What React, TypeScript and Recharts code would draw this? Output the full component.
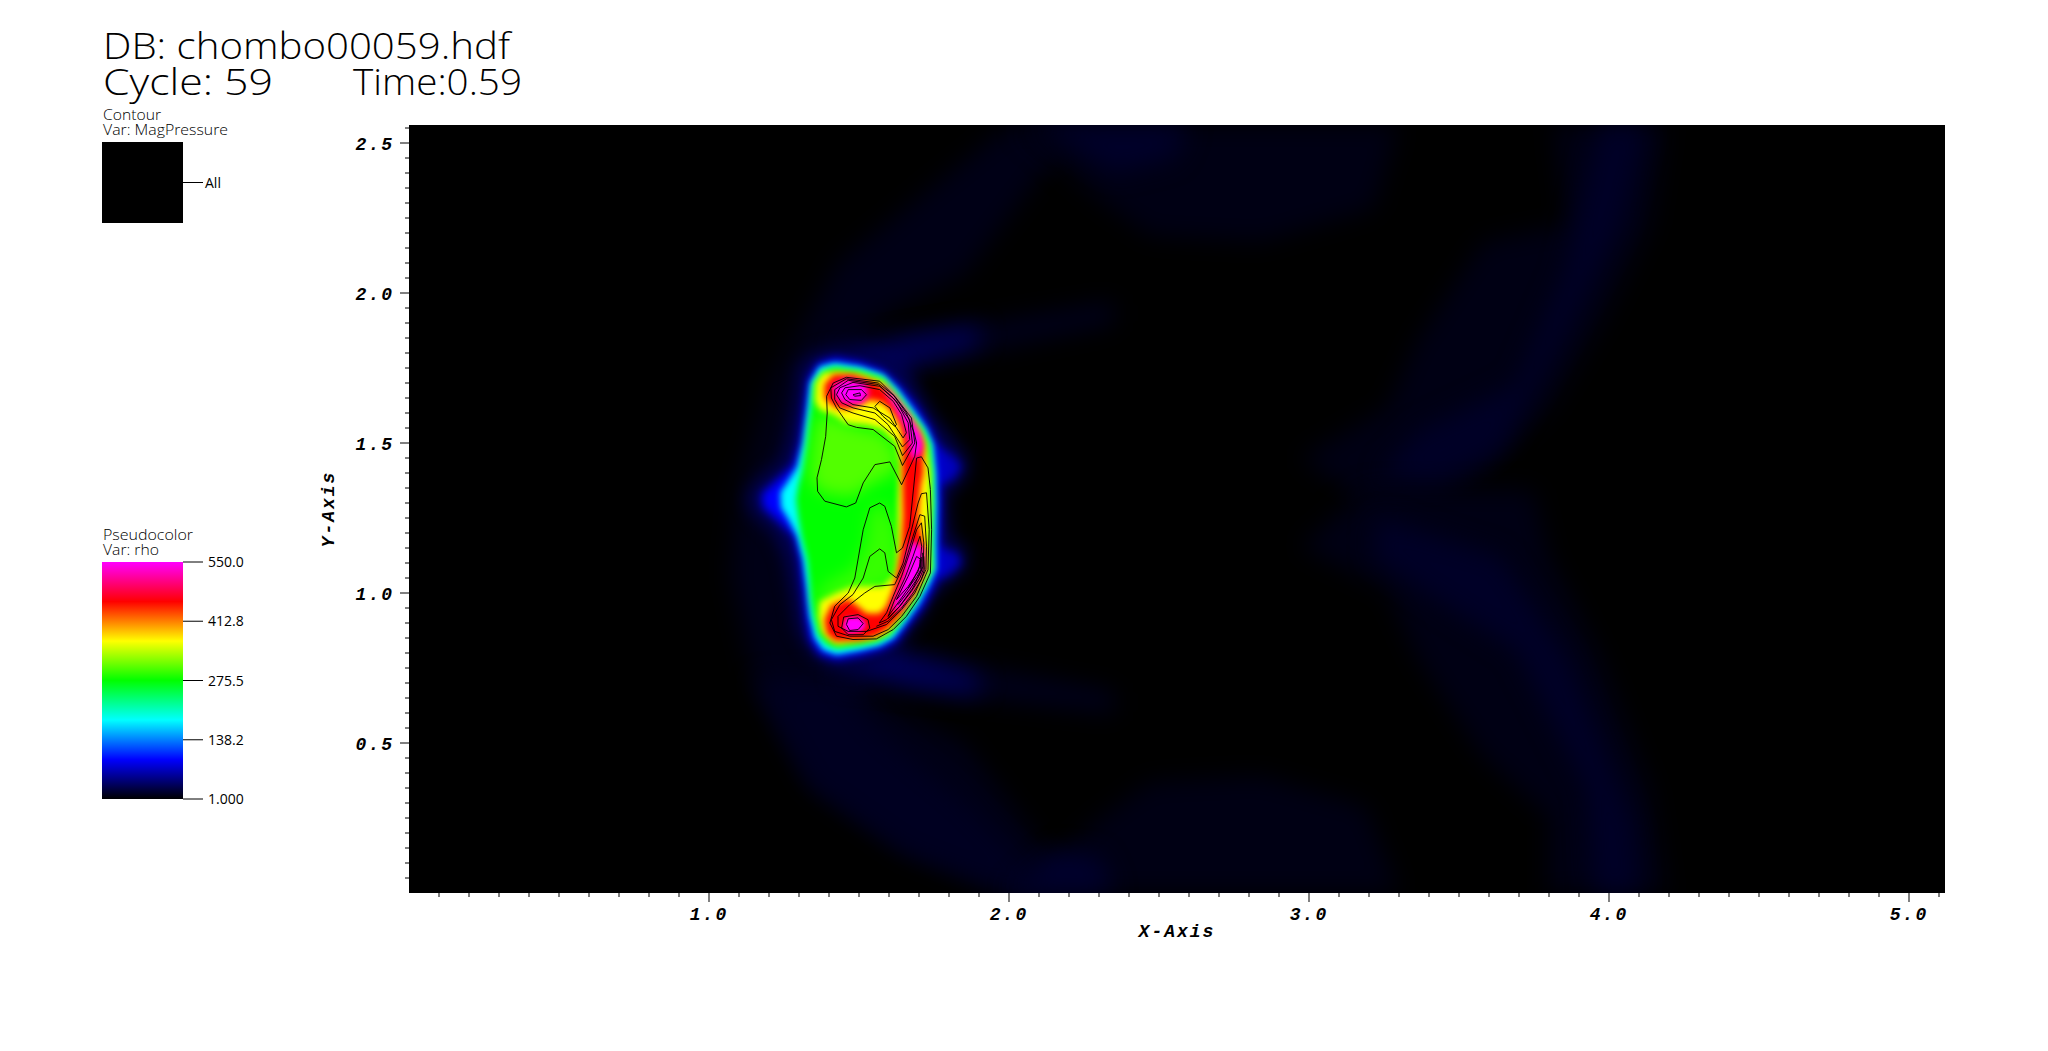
import React from "react"
import { Bar, BarChart, CartesianGrid, Scatter, ScatterChart, XAxis, YAxis } from "recharts"

type Pt = [number, number]

// rho colour table (VisIt "hot_and_cold"-like ramp), equal steps from 1 to 550
const rampRho = [1, 92.5, 184, 275.5, 367, 458.5, 550]
const rampColors = [[0, 0, 0], [0, 0, 255], [0, 255, 255], [0, 255, 0], [255, 255, 0], [255, 0, 0], [255, 0, 255]]
const legendTicks = [1, 138.2, 275.5, 412.8, 550]
const legendLabels = ["1.000", "138.2", "275.5", "412.8", "550.0"]

const xTicks = Array.from({ length: 51 }, (_, i) => Math.round((i + 1)) / 10)
const yTicks = Array.from({ length: 51 }, (_, i) => Math.round((i + 1) * 5) / 100)

// faint outer structures
const bowArc: Pt[] = [[2.0, 2.56], [1.43, 2.1], [1.21, 1.71], [1.1, 1.36], [1.07, 1.06], [1.15, 0.71], [1.34, 0.36], [1.65, 0.14], [2.0, 0], [2.3, 0], [2.1, 0.17], [1.85, 0.5], [1.6, 0.62], [1.45, 0.72], [1.45, 1.82], [1.6, 1.94], [1.85, 2.06], [2.1, 2.39], [2.3, 2.56]]
const bowLower: Pt[] = [[1.15, 0.71], [1.34, 0.36], [1.65, 0.14], [2.0, 0], [2.15, 0], [1.85, 0.3], [1.55, 0.55], [1.42, 0.72]]
const topBlock: Pt[] = [[2.03, 2.56], [3.3, 2.56], [3.215, 2.28], [2.84, 2.17], [2.47, 2.19], [2.29, 2.32]]
const topBlockCore: Pt[] = [[2.1, 2.56], [2.6, 2.56], [2.55, 2.45], [2.35, 2.4]]
const bottomBlock: Pt[] = [[2.03, 0], [3.3, 0], [3.19, 0.29], [2.84, 0.39], [2.47, 0.37], [2.29, 0.24]]
const bottomBlockCore: Pt[] = [[2.0, 0], [2.35, 0], [2.3, 0.12], [2.15, 0.14]]
const swooshUpper: Pt[] = [[3.815, 2.56], [4.19, 2.56], [4.137, 2.227], [3.97, 1.893], [3.8, 1.616], [3.526, 1.36], [3.3, 1.227], [2.97, 1.45], [3.26, 1.616], [3.36, 1.84], [3.58, 2.17], [3.86, 2.227]]
const swooshUpperCore: Pt[] = [[3.97, 2.56], [4.126, 2.56], [4.04, 2.227], [3.837, 1.838], [3.637, 1.47], [3.415, 1.36], [3.237, 1.393], [3.36, 1.538], [3.69, 1.693], [3.85, 2.06], [3.89, 2.227]]
const swooshLower: Pt[] = [[2.97, 1.154], [3.19, 1.343], [3.748, 1.343], [3.8, 1.12], [3.97, 0.787], [4.137, 0.343], [4.19, 0], [3.8, 0], [3.8, 0.254], [3.58, 0.454], [3.36, 0.787], [3.26, 1.01]]
const swooshLowerCore: Pt[] = [[3.226, 1.254], [3.637, 1.12], [3.86, 0.787], [4.08, 0.232], [4.1, 0], [3.95, 0], [3.926, 0.343], [3.69, 0.81], [3.36, 1.02], [3.215, 1.12]]
const tailUpperFar: Pt[] = [[1.6, 1.84], [2.35, 1.97], [2.35, 1.9], [1.7, 1.76]]
const tailUpperNear: Pt[] = [[1.42, 1.82], [1.6, 1.84], [1.9, 1.89], [1.9, 1.83], [1.7, 1.77], [1.6, 1.7]]
const tailLowerFar: Pt[] = [[1.7, 0.79], [2.35, 0.67], [2.35, 0.6], [1.6, 0.69]]
const tailLowerNear: Pt[] = [[1.42, 0.72], [1.6, 0.7], [1.9, 0.66], [1.9, 0.72], [1.68, 0.79], [1.6, 0.84]]

// iso-rho outlines of the dense blob
const rho30: Pt[] = [[1.414, 1.817], [1.525, 1.806], [1.636, 1.778], [1.692, 1.689], [1.747, 1.589], [1.803, 1.522], [1.864, 1.445], [1.858, 1.389], [1.792, 1.322], [1.803, 1.189], [1.858, 1.145], [1.853, 1.078], [1.792, 1.034], [1.747, 0.989], [1.703, 0.911], [1.636, 0.834], [1.592, 0.778], [1.48, 0.745], [1.403, 0.75], [1.336, 0.8], [1.292, 0.878], [1.275, 0.989], [1.253, 1.111], [1.214, 1.2], [1.147, 1.26], [1.125, 1.3], [1.13, 1.34], [1.169, 1.385], [1.236, 1.44], [1.258, 1.511], [1.286, 1.656], [1.297, 1.756], [1.347, 1.8]]
const lobeUpper: Pt[] = [[1.747, 1.5], [1.814, 1.456], [1.842, 1.422], [1.814, 1.378], [1.758, 1.356]]
const lobeLower: Pt[] = [[1.758, 1.156], [1.825, 1.134], [1.842, 1.1], [1.803, 1.061], [1.758, 1.045]]
const rho92: Pt[] = [[1.419, 1.784], [1.503, 1.769], [1.58, 1.742], [1.636, 1.689], [1.692, 1.622], [1.736, 1.55], [1.76, 1.489], [1.769, 1.411], [1.772, 1.3], [1.769, 1.167], [1.772, 1.078], [1.747, 1.017], [1.714, 0.956], [1.669, 0.9], [1.625, 0.839], [1.58, 0.814], [1.514, 0.795], [1.425, 0.778], [1.369, 0.795], [1.336, 0.845], [1.323, 0.922], [1.314, 1.011], [1.303, 1.111], [1.283, 1.189], [1.225, 1.245], [1.18, 1.285], [1.175, 1.33], [1.225, 1.375], [1.28, 1.425], [1.303, 1.5], [1.316, 1.6], [1.33, 1.711], [1.364, 1.767]]
const rho184: Pt[] = [[1.419, 1.767], [1.503, 1.754], [1.58, 1.728], [1.63, 1.678], [1.68, 1.611], [1.725, 1.545], [1.747, 1.495], [1.756, 1.4], [1.758, 1.3], [1.756, 1.167], [1.756, 1.078], [1.73, 1.022], [1.697, 0.961], [1.653, 0.9], [1.614, 0.85], [1.569, 0.825], [1.503, 0.809], [1.425, 0.795], [1.38, 0.811], [1.353, 0.85], [1.336, 0.922], [1.327, 1.011], [1.314, 1.111], [1.294, 1.189], [1.262, 1.25], [1.24, 1.285], [1.238, 1.335], [1.262, 1.37], [1.294, 1.42], [1.314, 1.5], [1.327, 1.6], [1.338, 1.7], [1.369, 1.754]]
const rho275: Pt[] = [[1.419, 1.754], [1.503, 1.742], [1.58, 1.717], [1.625, 1.667], [1.669, 1.606], [1.714, 1.545], [1.736, 1.495], [1.745, 1.4], [1.747, 1.3], [1.743, 1.167], [1.745, 1.078], [1.719, 1.028], [1.686, 0.967], [1.642, 0.906], [1.603, 0.858], [1.558, 0.836], [1.503, 0.825], [1.425, 0.814], [1.392, 0.828], [1.364, 0.861], [1.349, 0.922], [1.338, 1.011], [1.327, 1.111], [1.308, 1.189], [1.297, 1.256], [1.29, 1.311], [1.297, 1.356], [1.312, 1.411], [1.327, 1.5], [1.338, 1.6], [1.349, 1.7], [1.38, 1.742]]
const limeUpper: Pt[] = [[1.369, 1.6], [1.48, 1.556], [1.58, 1.534], [1.63, 1.467], [1.63, 1.411], [1.592, 1.389], [1.525, 1.356], [1.48, 1.322], [1.38, 1.334], [1.336, 1.378], [1.347, 1.511]]
const limeLower: Pt[] = [[1.392, 1.034], [1.48, 1.078], [1.525, 1.167], [1.536, 1.278], [1.58, 1.3], [1.625, 1.211], [1.63, 1.1], [1.614, 1.034], [1.525, 1.0], [1.425, 0.978], [1.369, 0.945], [1.358, 0.989]]
const rho367: Pt[] = [[1.425, 1.739], [1.503, 1.731], [1.58, 1.706], [1.619, 1.661], [1.664, 1.6], [1.703, 1.545], [1.725, 1.495], [1.737, 1.4], [1.738, 1.3], [1.734, 1.167], [1.736, 1.078], [1.708, 1.028], [1.675, 0.972], [1.63, 0.911], [1.597, 0.867], [1.553, 0.847], [1.503, 0.839], [1.425, 0.828], [1.397, 0.845], [1.375, 0.872], [1.364, 0.922], [1.369, 0.972], [1.425, 1.0], [1.48, 1.022], [1.536, 1.022], [1.58, 1.022], [1.619, 1.061], [1.625, 1.1], [1.63, 1.167], [1.63, 1.3], [1.636, 1.434], [1.625, 1.5], [1.58, 1.545], [1.525, 1.561], [1.458, 1.567], [1.414, 1.595], [1.369, 1.611], [1.353, 1.639], [1.356, 1.7], [1.38, 1.733]]
const rho458: Pt[] = [[1.415, 1.728], [1.48, 1.728], [1.547, 1.706], [1.586, 1.683], [1.63, 1.628], [1.664, 1.583], [1.699, 1.533], [1.716, 1.495], [1.714, 1.45], [1.714, 1.4], [1.705, 1.356], [1.7, 1.3], [1.697, 1.256], [1.703, 1.211], [1.719, 1.145], [1.719, 1.078], [1.692, 1.011], [1.658, 0.956], [1.625, 0.911], [1.592, 0.878], [1.558, 0.856], [1.503, 0.843], [1.42, 0.84], [1.392, 0.865], [1.385, 0.911], [1.408, 0.96], [1.464, 0.98], [1.497, 0.955], [1.525, 0.932], [1.569, 0.932], [1.592, 0.956], [1.614, 1.011], [1.63, 1.078], [1.642, 1.156], [1.647, 1.256], [1.645, 1.356], [1.645, 1.434], [1.647, 1.511], [1.636, 1.561], [1.614, 1.6], [1.58, 1.634], [1.536, 1.645], [1.503, 1.628], [1.458, 1.612], [1.419, 1.62], [1.385, 1.65], [1.385, 1.695]]
const peakTop: Pt[] = [[1.412, 1.692], [1.458, 1.714], [1.522, 1.7], [1.533, 1.661], [1.508, 1.632], [1.458, 1.632], [1.424, 1.645]]
const peakStrip: Pt[] = [[1.58, 1.7], [1.625, 1.65], [1.664, 1.6], [1.703, 1.533], [1.712, 1.495], [1.703, 1.461], [1.675, 1.445], [1.669, 1.5], [1.653, 1.556], [1.625, 1.611], [1.592, 1.667]]
const peakRidge: Pt[] = [[1.675, 1.175], [1.716, 1.15], [1.718, 1.078], [1.695, 1.04], [1.672, 0.995], [1.642, 0.95], [1.606, 0.935], [1.628, 1.0], [1.65, 1.067], [1.658, 1.122]]
const peakBottom: Pt[] = [[1.458, 0.918], [1.503, 0.92], [1.524, 0.895], [1.508, 0.872], [1.465, 0.865], [1.446, 0.889]]

// painted in this order, low values first
const bands: { rho: number; blur: number; outline: Pt[] }[] = [
  { rho: 9, blur: 12, outline: bowArc },
  { rho: 13, blur: 12, outline: bowLower },
  { rho: 8, blur: 12, outline: topBlock },
  { rho: 16, blur: 12, outline: topBlockCore },
  { rho: 8, blur: 12, outline: bottomBlock },
  { rho: 17, blur: 12, outline: bottomBlockCore },
  { rho: 8, blur: 12, outline: swooshUpper },
  { rho: 15, blur: 12, outline: swooshUpperCore },
  { rho: 8, blur: 12, outline: swooshLower },
  { rho: 15, blur: 12, outline: swooshLowerCore },
  { rho: 11, blur: 12, outline: tailUpperFar },
  { rho: 34, blur: 12, outline: tailUpperNear },
  { rho: 11, blur: 12, outline: tailLowerFar },
  { rho: 34, blur: 12, outline: tailLowerNear },
  { rho: 30, blur: 8, outline: rho30 },
  { rho: 70, blur: 5, outline: lobeUpper },
  { rho: 70, blur: 5, outline: lobeLower },
  { rho: 92.5, blur: 5, outline: rho92 },
  { rho: 184, blur: 3, outline: rho184 },
  { rho: 275.5, blur: 3, outline: rho275 },
  { rho: 305, blur: 8, outline: limeUpper },
  { rho: 295, blur: 8, outline: limeLower },
  { rho: 367, blur: 3, outline: rho367 },
  { rho: 458.5, blur: 3, outline: rho458 },
  { rho: 550, blur: 3, outline: peakTop },
  { rho: 550, blur: 3, outline: peakStrip },
  { rho: 550, blur: 3, outline: peakRidge },
  { rho: 550, blur: 2, outline: peakBottom },
]

// MagPressure contour lines
const magUpper: Pt[] = [[1.392, 1.656], [1.394, 1.6], [1.389, 1.522], [1.375, 1.445], [1.36, 1.384], [1.362, 1.339], [1.386, 1.306], [1.458, 1.287], [1.489, 1.3], [1.514, 1.367], [1.553, 1.428], [1.603, 1.437], [1.642, 1.361], [1.686, 1.456], [1.692, 1.5], [1.684, 1.534], [1.658, 1.6], [1.614, 1.661], [1.569, 1.706], [1.458, 1.719], [1.414, 1.7]]
const magLower: Pt[] = [[1.692, 1.45], [1.708, 1.454], [1.73, 1.417], [1.738, 1.345], [1.742, 1.211], [1.738, 1.067], [1.703, 0.989], [1.658, 0.922], [1.614, 0.878], [1.558, 0.847], [1.48, 0.845], [1.425, 0.856], [1.403, 0.9], [1.419, 0.956], [1.464, 1.0], [1.486, 1.05], [1.514, 1.211], [1.536, 1.284], [1.569, 1.3], [1.586, 1.289], [1.608, 1.222], [1.625, 1.134], [1.645, 1.15], [1.669, 1.222]]
const magLower2: Pt[] = [[1.697, 1.3], [1.708, 1.331], [1.725, 1.334], [1.734, 1.211], [1.73, 1.078], [1.692, 0.989], [1.642, 0.922], [1.597, 0.878], [1.547, 0.856], [1.469, 0.856], [1.419, 0.872], [1.408, 0.911], [1.436, 0.961], [1.48, 0.995], [1.514, 1.05], [1.536, 1.122], [1.569, 1.147], [1.586, 1.134], [1.597, 1.072], [1.625, 1.05], [1.647, 1.1], [1.675, 1.211]]
const magLower3: Pt[] = [[1.553, 1.022], [1.619, 1.028], [1.653, 1.1], [1.68, 1.189], [1.703, 1.261], [1.719, 1.256], [1.725, 1.156], [1.723, 1.078], [1.686, 1.0], [1.642, 0.945], [1.592, 0.895], [1.525, 0.872], [1.464, 0.872], [1.43, 0.889], [1.43, 0.922], [1.469, 0.961], [1.519, 1.0]]
const magBottomOuter: Pt[] = [[1.449, 0.92], [1.497, 0.928], [1.53, 0.911], [1.536, 0.883], [1.514, 0.861], [1.464, 0.861], [1.442, 0.883]]
const magBottomInner: Pt[] = [[1.464, 0.914], [1.497, 0.917], [1.514, 0.898], [1.497, 0.878], [1.469, 0.875], [1.458, 0.895]]
const magRidge1: Pt[] = [[1.567, 0.9], [1.592, 0.934], [1.614, 0.989], [1.642, 1.056], [1.669, 1.134], [1.692, 1.211], [1.708, 1.234], [1.716, 1.167], [1.714, 1.089], [1.68, 1.017], [1.636, 0.956], [1.592, 0.911]]
const magRidge2: Pt[] = [[1.597, 0.922], [1.619, 0.978], [1.653, 1.05], [1.68, 1.122], [1.703, 1.189], [1.709, 1.156], [1.703, 1.089], [1.669, 1.022], [1.63, 0.967]]
const magRidge3: Pt[] = [[1.625, 0.978], [1.664, 1.056], [1.692, 1.122], [1.707, 1.111], [1.697, 1.072], [1.664, 1.022]]
const magClump1: Pt[] = [[1.716, 1.122], [1.718, 1.078], [1.708, 1.045], [1.68, 1.0], [1.642, 0.95], [1.597, 0.906], [1.558, 0.889]]
const magClump2: Pt[] = [[1.712, 1.134], [1.714, 1.078], [1.703, 1.05], [1.675, 1.006], [1.636, 0.956], [1.597, 0.914]]
const magClump3: Pt[] = [[1.709, 1.12], [1.709, 1.078], [1.698, 1.054], [1.669, 1.011], [1.63, 0.961]]
const magClump4: Pt[] = [[1.703, 1.111], [1.706, 1.078], [1.694, 1.056], [1.664, 1.017]]
const magTop1: Pt[] = [[1.453, 1.684], [1.503, 1.691], [1.569, 1.678], [1.614, 1.639], [1.642, 1.595], [1.658, 1.534], [1.647, 1.517], [1.603, 1.583], [1.547, 1.617], [1.48, 1.628], [1.453, 1.645], [1.442, 1.667]]
const magTop2: Pt[] = [[1.436, 1.684], [1.48, 1.702], [1.569, 1.689], [1.625, 1.639], [1.664, 1.567], [1.669, 1.511], [1.645, 1.487], [1.597, 1.561], [1.553, 1.6], [1.48, 1.617], [1.442, 1.634], [1.425, 1.661]]
const magTop3: Pt[] = [[1.419, 1.678], [1.464, 1.709], [1.564, 1.695], [1.614, 1.65], [1.669, 1.578], [1.678, 1.5], [1.645, 1.458], [1.619, 1.522], [1.553, 1.578], [1.48, 1.6], [1.436, 1.617], [1.419, 1.645]]
const magTop4: Pt[] = [[1.406, 1.684], [1.458, 1.714], [1.564, 1.7], [1.619, 1.656], [1.675, 1.583], [1.686, 1.5], [1.645, 1.425], [1.619, 1.489], [1.547, 1.545], [1.492, 1.552], [1.464, 1.561], [1.425, 1.617], [1.408, 1.65]]
const magPocket: Pt[] = [[1.553, 1.622], [1.569, 1.639], [1.603, 1.617], [1.625, 1.561], [1.619, 1.556], [1.58, 1.589]]
const magSpot: Pt[] = [[1.48, 1.661], [1.503, 1.667], [1.505, 1.658], [1.486, 1.656]]
const magSpotRing: Pt[] = [[1.464, 1.678], [1.508, 1.678], [1.525, 1.661], [1.508, 1.642], [1.469, 1.645], [1.456, 1.661]]

const closedContours = [magUpper, magLower, magLower2, magLower3, magBottomOuter, magBottomInner, magRidge1, magRidge2, magRidge3, magTop1, magTop2, magTop3, magTop4, magPocket, magSpot, magSpotRing]
const openContours = [magClump1, magClump2, magClump3, magClump4]

const blurLevels = [2, 3, 5, 8, 12]
const axisFont = { fontFamily: "'Liberation Mono'", fontWeight: 700, fontStyle: "italic", fontSize: 18, letterSpacing: 2, fill: "#000" }
const legendFont = "'Open Sans'"

function rhoColor(rho: number) {
  let i = 0
  while (i < rampRho.length - 2 && rho > rampRho[i + 1]) i++
  const t = Math.min(1, Math.max(0, (rho - rampRho[i]) / (rampRho[i + 1] - rampRho[i])))
  const c = rampColors[i].map((v, k) => Math.round(v + (rampColors[i + 1][k] - v) * t))
  return `rgb(${c[0]},${c[1]},${c[2]})`
}

const toPoints = (outline: Pt[]) => outline.map(([x, y]) => ({ x, y }))

const pathOf = (points: { x: number; y: number }[], closed: boolean) =>
  "M" + points.map((p) => `${p.x},${p.y}`).join("L") + (closed ? "Z" : "")

const noPoint = () => null

function XTick({ x, y, payload }: any) {
  const major = Math.abs(payload.value - Math.round(payload.value)) < 1e-6
  return (
    <g>
      <line x1={x} x2={x} y1={y} y2={y + (major ? 9 : 4)} stroke="#000" />
      {major && <text x={x} y={y + 27} textAnchor="middle" {...axisFont}>{payload.value.toFixed(1)}</text>}
    </g>
  )
}

function YTick({ x, y, payload }: any) {
  const major = Math.abs(payload.value * 2 - Math.round(payload.value * 2)) < 1e-6
  return (
    <g>
      <line x1={x} x2={x - (major ? 9 : 4)} y1={y} y2={y} stroke="#000" />
      {major && <text x={x - 15} y={y + 7} textAnchor="end" {...axisFont}>{payload.value.toFixed(1)}</text>}
    </g>
  )
}

function Caption({ x, y, size, length, children }: any) {
  return (
    <text x={x} y={y} fontFamily={legendFont} fontWeight={300} fontSize={size} fill="#000" textLength={length} lengthAdjust="spacingAndGlyphs">
      {children}
    </text>
  )
}

function LegendBar({ top, height, domain, ticks, labels, fill, labelGap, children }: any) {
  const data = [{ name: "bar", range: domain }]
  const LegendTick = ({ x, y, payload }: any) => (
    <g>
      <line x1={x} x2={x + 20} y1={y} y2={y} stroke="#000" />
      <text x={x + labelGap} y={y + 5} fontFamily={legendFont} fontSize={14} fill="#000">
        {labels[ticks.indexOf(payload.value)]}
      </text>
    </g>
  )
  return (
    <div style={{ position: "absolute", left: 102, top }}>
      <BarChart width={161} height={height} data={data} barCategoryGap={0} margin={{ top: 12, right: 0, bottom: 12, left: 0 }}>
        {children}
        <XAxis dataKey="name" hide />
        <YAxis orientation="right" width={80} type="number" domain={domain} ticks={ticks} interval={0} tickSize={0} tickMargin={0}
          axisLine={false} tickLine={false} tick={<LegendTick />} />
        <Bar dataKey="range" fill={fill} isAnimationActive={false} />
      </BarChart>
    </div>
  )
}

export default function App() {
  return (
    <div style={{ position: "absolute", left: 0, top: 0, width: 2048, height: 1051, background: "#fff", overflow: "hidden" }}>
      <ScatterChart width={2048} height={1051} margin={{ top: 125, right: 103, bottom: 0, left: 0 }}>
        <defs>
          {blurLevels.map((s) => (
            <filter key={s} id={`blur${s}`} filterUnits="userSpaceOnUse" x={340} y={60} width={1670} height={900} colorInterpolationFilters="sRGB">
              <feGaussianBlur stdDeviation={s} />
            </filter>
          ))}
          <clipPath id="plotClip">
            <rect x={409} y={125} width={1536} height={768} />
          </clipPath>
        </defs>
        <CartesianGrid fill="#000" fillOpacity={1} horizontal={false} vertical={false} />
        <XAxis type="number" dataKey="x" domain={[0, 5.12]} ticks={xTicks} interval={0} height={158} tickSize={0} tickMargin={0}
          axisLine={false} tickLine={false} tick={<XTick />}
          label={{ value: "X-Axis", position: "insideTop", offset: 31, style: axisFont }} />
        <YAxis type="number" dataKey="y" domain={[0, 2.56]} ticks={yTicks} interval={0} width={409} tickSize={0} tickMargin={0}
          axisLine={false} tickLine={false} tick={<YTick />}
          label={{ value: "Y-Axis", angle: -90, position: "insideLeft", offset: 328, style: { ...axisFont, textAnchor: "middle" } }} />
        {bands.map((band, i) => (
          <Scatter key={i} data={toPoints(band.outline)} isAnimationActive={false} shape={noPoint}
            line={(p: any) => (
              <path d={pathOf(p.points, true)} fill={rhoColor(band.rho)} filter={`url(#blur${band.blur})`} clipPath="url(#plotClip)" />
            )} />
        ))}
        {closedContours.map((c, i) => (
          <Scatter key={`c${i}`} data={toPoints(c)} isAnimationActive={false} shape={noPoint}
            line={(p: any) => <path d={pathOf(p.points, true)} fill="none" stroke="#000" strokeWidth={0.9} />} />
        ))}
        {openContours.map((c, i) => (
          <Scatter key={`o${i}`} data={toPoints(c)} isAnimationActive={false} shape={noPoint}
            line={(p: any) => <path d={pathOf(p.points, false)} fill="none" stroke="#000" strokeWidth={0.9} />} />
        ))}
        <Caption x={103} y={59} size={36} length={407}>DB: chombo00059.hdf</Caption>
        <Caption x={103} y={95} size={36} length={170}>Cycle: 59</Caption>
        <Caption x={353} y={95} size={36} length={169}>Time:0.59</Caption>
        <Caption x={103} y={120} size={14} length={58}>Contour</Caption>
        <Caption x={103} y={135} size={14} length={125}>Var: MagPressure</Caption>
        <Caption x={103} y={540} size={14} length={90}>Pseudocolor</Caption>
        <Caption x={103} y={555} size={14} length={56}>Var: rho</Caption>
      </ScatterChart>
      <LegendBar top={130} height={105} domain={[0, 1]} ticks={[0.5]} labels={["All"]} fill="#000" labelGap={22} />
      <LegendBar top={550} height={261} domain={[1, 550]} ticks={legendTicks} labels={legendLabels} fill="url(#rhoRamp)" labelGap={25}>
        <defs>
          <linearGradient id="rhoRamp" x1="0" y1="0" x2="0" y2="1">
            {rampRho.slice().reverse().map((v, i) => (
              <stop key={v} offset={i / 6} stopColor={rhoColor(v)} />
            ))}
          </linearGradient>
        </defs>
      </LegendBar>
    </div>
  )
}
